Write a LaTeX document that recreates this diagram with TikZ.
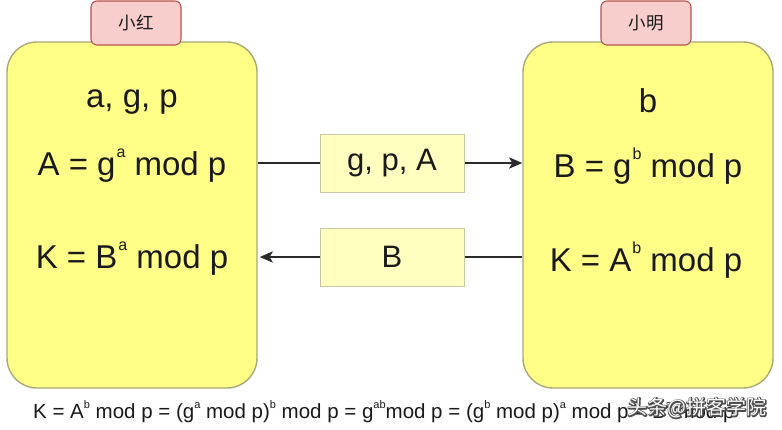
\documentclass[tikz,border=0pt]{standalone}
\usepackage{fontspec}
\setmainfont{Liberation Sans}
\newfontfamily\cjk{Noto Sans CJK SC}
\usetikzlibrary{arrows.meta}
\definecolor{bigfill}{HTML}{FFFF88}
\definecolor{bigdraw}{HTML}{A8A878}
\definecolor{midfill}{HTML}{FFFFC0}
\definecolor{middraw}{HTML}{C8C8A0}
\definecolor{pinkfill}{HTML}{F8CECC}
\definecolor{pinkdraw}{HTML}{B85450}
\definecolor{ink}{HTML}{1A1A1A}
\definecolor{arrowink}{HTML}{2A2A2A}
\newcommand\upbig[1]{\kern1pt\raisebox{18pt}{\fontsize{16}{16}\selectfont #1}}
\newcommand\upsm[1]{\raisebox{10pt}{\fontsize{11}{11}\selectfont #1}}
\newcommand\strokeonly[1]{\special{pdf:literal direct 1 Tr 2.2 w 1 J 1 j 0.3 0.3 0.3 RG}#1\special{pdf:literal direct 0 Tr}}
\tikzset{
  party/.style={draw=bigdraw, fill=bigfill, line width=1.4pt, rounded corners=30pt,
    minimum width=250pt, minimum height=346pt, inner sep=0pt},
  tag/.style={draw=pinkdraw, fill=pinkfill, line width=1.1pt, rounded corners=6pt,
    minimum width=90pt, minimum height=44pt, inner sep=0pt,
    font=\cjk\fontsize{17.5}{17.5}\selectfont, text=ink},
  msg/.style={draw=middraw, fill=midfill, line width=1pt,
    minimum width=144pt, minimum height=58pt, inner sep=0pt,
    font=\fontsize{31}{31}\selectfont, text=ink},
  bigtxt/.style={font=\fontsize{33}{33}\selectfont, text=ink, inner sep=0pt, anchor=base},
  flow/.style={draw=arrowink, line width=2.6pt,
    -{Stealth[length=13pt, width=11pt, inset=3pt]}},
  formula/.style={font=\fontsize{20.5}{20.5}\selectfont, text=ink, inner sep=0pt, anchor=base west},
  wm/.style={font=\cjk\fontsize{20}{20}\selectfont, inner sep=0pt}
}
\begin{document}
\begin{tikzpicture}[x=1pt, y=-1pt]
\fill[white] (0,0) rectangle (782,429);
\useasboundingbox (0,0) rectangle (782,429);

% parties
\node[party] (L) at (132,215) {};
\node[party] (R) at (648,215) {};
\node[tag] (Ltag) at (136,23) {小红};
\node[tag] (Rtag) at (646,23) {小明};

% left texts
\node[bigtxt] (l1) at (132,107) {a, g, p};
\node[bigtxt] (l2) at (132,175) {A = g\upbig{a} mod p};
\node[bigtxt] (l3) at (132,268) {K = B\upbig{a} mod p};

% right texts
\node[bigtxt] (r1) at (648,112) {b};
\node[bigtxt] (r2) at (648,177) {B = g\upbig{b} mod p};
\node[bigtxt] (r3) at (646,271) {K = A\upbig{b} mod p};

% messages
\node[msg] (m1) at (392,163) {g, p, A};
\node[msg] (m2) at (392,257) {B};

\draw[draw=arrowink, line width=2.6pt] (L.east |- m1.west) -- (m1.west);
\draw[flow] (m1.east) -- (R.west |- m1.east);
\draw[draw=arrowink, line width=2.6pt] (R.west |- m2.east) -- (m2.east);
\draw[flow] (m2.west) -- ([xshift=2pt]L.east |- m2.west);

% bottom formula
\node[formula] (f) at (33,418) {K = A\upsm{b} mod p = (g\upsm{a} mod p)\upsm{b} mod p = g\upsm{ab}mod p = (g\upsm{b} mod p)\upsm{a} mod p = B\upsm{a} mod p};

% watermark: dark outline under a white fill
\node[wm, text=white] (wmo) at (697,408) {\strokeonly{头条@拼客学院}};
\node[wm, text=white] (wm) at (697,408) {头条@拼客学院};
\end{tikzpicture}
\end{document}
